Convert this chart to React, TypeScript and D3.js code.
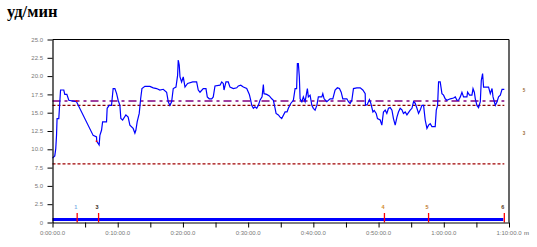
import React, { useEffect, useRef } from "react";
import * as d3 from "d3";

// Heart rate series: time (s), bpm
const hrTime = [0,21,30,37,42,58,74,104,113,132,150,221,374,405,407,429,436,451,461,497,503,521,543,558,574,590,604,620,629,645,675,696,712,742,758,767,779,798,811,823,850,896,927,958,988,1019,1050,1065,1080,1096,1111,1136,1151,1157,1166,1173,1188,1203,1219,1243,1290,1326,1341,1357,1387,1412,1424,1442,1465,1479,1495,1541,1557,1571,1578,1596,1617,1633,1664,1695,1710,1732,1756,1787,1811,1824,1833,1848,1863,1879,1894,1909,1928,1940,1946,1971,1995,2017,2032,2048,2057,2078,2094,2109,2140,2158,2170,2192,2216,2232,2246,2253,2262,2271,2278,2294,2308,2324,2345,2354,2370,2386,2400,2416,2432,2446,2478,2487,2499,2524,2554,2579,2600,2621,2640,2656,2671,2708,2723,2738,2754,2769,2800,2831,2855,2877,2879,2895,2916,2929,2948,2960,2978,2990,3015,3030,3045,3061,3076,3091,3107,3123,3137,3153,3169,3183,3199,3215,3229,3245,3261,3275,3291,3307,3322,3337,3353,3368,3383,3399,3414,3429,3445,3460,3475,3491,3521,3531,3543,3552,3567,3583,3598,3613,3629,3660,3690,3706,3721,3736,3752,3767,3782,3813,3819,3837,3859,3869,3881,3890,3905,3920,3936,3945,3957,3966,4012,4028,4044,4053,4065,4074,4090,4104,4120,4136,4157];
const hrValue = [88,91,101,119,142,142,181,181,175,175,167,165,119,117,111,106,119,126,137.5,137.5,156,160,160,183,183,176,167,160,142,140,147,144,133,128.5,122,126,137.5,149,169,183,186,186,184,183,181,182,178,165,160,165,183,185,201,222,215,199,192,199,185,190,192,192,181,178,183,183,171.6,169,169,171.6,186.6,187.6,192,190,181,192,192,185,183,184,186.6,187.6,185,183,175,167,160,156,158,156,160,167,171.6,188.5,176,175,173,169,167,156,149,147,144,142,151,151,156,162.6,167,183,183,217,217,199,169,165,171.6,165,183,171.6,174,160,156,153.5,160,171.6,171.6,176,169,165,169,169,181,184,183,178,169,169,165,162.6,167,183,184,184,181,176,160,161,168,162.6,151,153,149,142,140,133,151,153.5,149,156,157,153.5,142,133,144,151,156,154,149,151,147,150,153.5,156,165,163,156,149,153.5,160,160,140,128.5,133,135,131,131,153.5,160,192,192,176,174,169,167,169,170,171.6,167,167,171.6,178,171.6,171.6,178,174,174,183,178,169,160,157,165,194,203.5,185,185,176,183,171.6,165,160,165,171.6,174,182,182];

// Reference levels (bpm)
const upperZone = 166;
const avgLevel = 160;
const lowerZone = 80;
const baseLevel = 4;
const seriesEnd = 4157;

// Lap markers
const lapTimes = [227, 424, 3054, 3460, 4157];
const lapLabels = ["1", "3", "4", "5", "6"];
const lapColors = ["#7fb0e6", "#3a2a1a", "#d08a2a", "#c0782a", "#5a3a20"];
const lapPointTimes = [221, 405];
const lapPointValues = [166, 111];

// Axes
const yTicks = [0, 25, 50, 75, 100, 125, 150, 175, 200, 225, 250];
const yTickLabels = ["0", "2.5", "5.0", "7.5", "10.0", "12.5", "15.0", "17.5", "20.0", "22.5", "25.0"];
const xTicks = [0, 300, 600, 900, 1200, 1500, 1800, 2100, 2400, 2700, 3000, 3300, 3600, 3900, 4200];
const xLabelTicks = [0, 600, 1200, 1800, 2400, 3000, 3600, 4200];
const xTickLabels = ["0:00:00.0", "0:10:00.0", "0:20:00.0", "0:30:00.0", "0:40:00.0", "0:50:00.0", "1:00:00.0", "1:10:00.0"];
const sideLabels = ["5", "3"];
const sideValues = [180, 122];

const W = 537, H = 247;
const L = 52.5, R = 509, T = 39.5, B = 222.5;

export default function App() {
  const gx = useRef<SVGGElement>(null);
  const gy = useRef<SVGGElement>(null);
  const x = d3.scaleLinear().domain([0, 4200]).range([L, R]);
  const y = d3.scaleLinear().domain([0, 250]).range([B, T]);

  useEffect(() => {
    const ax = d3.axisBottom(x).tickValues(xTicks).tickSize(5).tickSizeOuter(0).tickFormat(() => "");
    const ay = d3.axisLeft(y).tickValues(yTicks).tickSize(5).tickSizeOuter(0).tickFormat(() => "");
    const sx = d3.select(gx.current!).call(ax as any);
    const sy = d3.select(gy.current!).call(ay as any);
    [sx, sy].forEach((s) => {
      s.selectAll("path").attr("stroke", "#000").attr("stroke-width", 1.2);
      s.selectAll("line").attr("stroke", "#000").attr("stroke-width", 1);
    });
  }, []);

  const pts = hrTime.map((t, i) => [t, hrValue[i]] as [number, number]);
  const line = d3.line<[number, number]>().x((d) => x(d[0])).y((d) => y(d[1]));

  const font = "'Liberation Sans', Arial, sans-serif";
  return (
    <svg width={W} height={H} style={{ position: "absolute", left: 0, top: 0, background: "#fff" }}>
      <rect x={0} y={0} width={W} height={H} fill="#fff" />
      <text x={7} y={17} fontFamily="'Liberation Serif', 'Times New Roman', serif" fontWeight="bold" fontSize={16.5} fill="#000">
        уд/мин
      </text>
      {/* frame */}
      <line x1={L} x2={R} y1={T} y2={T} stroke="#000" strokeWidth={1.2} />
      <line x1={R} x2={R} y1={T} y2={B} stroke="#000" strokeWidth={1.2} />
      {/* reference lines */}
      <line x1={x(0)} x2={x(seriesEnd)} y1={y(upperZone)} y2={y(upperZone)} stroke="#800080" strokeWidth={1.4} strokeDasharray="8,4,3,4" />
      <line x1={x(0)} x2={x(seriesEnd)} y1={y(avgLevel)} y2={y(avgLevel)} stroke="#8b0000" strokeWidth={1.3} strokeDasharray="3,2" />
      <line x1={x(0)} x2={x(seriesEnd)} y1={y(lowerZone)} y2={y(lowerZone)} stroke="#a00000" strokeWidth={1.3} strokeDasharray="3,2" />
      {/* base series */}
      <line x1={x(0)} x2={x(seriesEnd) - 1} y1={y(baseLevel)} y2={y(baseLevel)} stroke="#0000ff" strokeWidth={3} />
      {/* heart rate */}
      <path d={line(pts) || ""} fill="none" stroke="#0000ff" strokeWidth={1.2} />
      {lapPointTimes.map((t, i) => (
        <rect key={i} x={x(t) - 0.8} y={y(lapPointValues[i]) - 0.8} width={1.6} height={1.6} fill="#ff0000" />
      ))}
      {/* laps */}
      {lapTimes.map((t, i) => (
        <g key={i}>
          <line x1={x(t)} x2={x(t)} y1={y(13)} y2={B} stroke="#ff0000" strokeWidth={1.3} />
          <text x={x(t) - 1.5} y={209} fontFamily={font} fontSize={5.5} fontWeight="bold" fill={lapColors[i]} textAnchor="middle">
            {lapLabels[i]}
          </text>
        </g>
      ))}
      <g ref={gx} transform={`translate(0,${B})`} />
      <g ref={gy} transform={`translate(${L},0)`} />
      {yTicks.map((v, i) => (
        <text key={v} x={43} y={y(v)} dy="0.35em" textAnchor="end" fontFamily={font} fontSize={6} fill="#777">
          {yTickLabels[i]}
        </text>
      ))}
      {xLabelTicks.map((v, i) => (
        <text key={v} x={x(v)} y={235} textAnchor="middle" fontFamily={font} fontSize={6} fill="#777">
          {xTickLabels[i]}
        </text>
      ))}
      <text x={524} y={235} fontFamily={font} fontSize={6} fill="#555">m</text>
      {sideLabels.map((s, i) => (
        <text key={i} x={524} y={y(sideValues[i])} dy="0.35em" fontFamily={font} fontSize={4.5} fontWeight="bold" fill="#9a6a30" textAnchor="middle">
          {s}
        </text>
      ))}
    </svg>
  );
}
